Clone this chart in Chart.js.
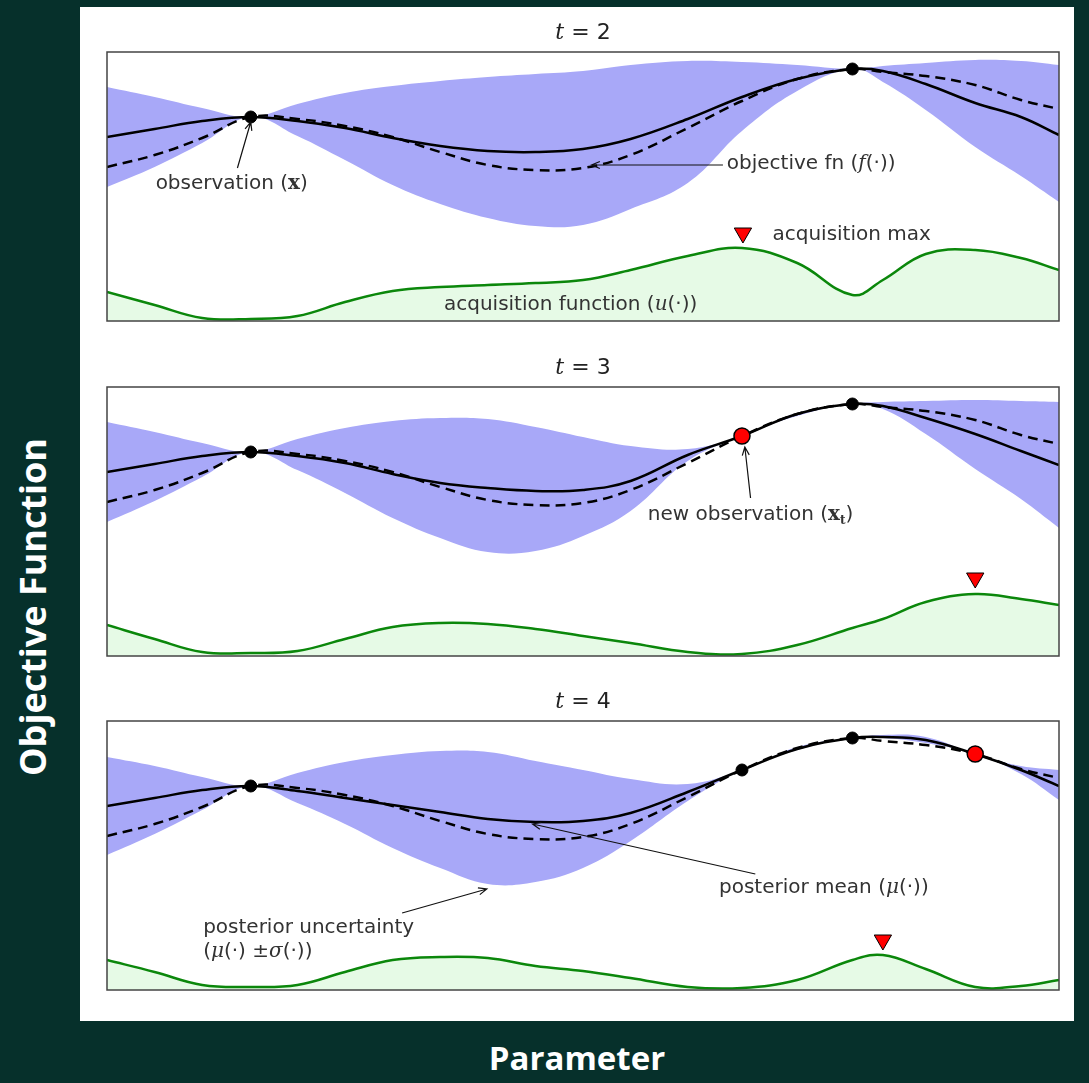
<!DOCTYPE html>
<html>
<head>
<meta charset="utf-8">
<script src="https://cdn.jsdelivr.net/npm/chart.js@4"></script>
<style>
body { margin:0; background:#06302b; width:1089px; height:1083px; overflow:hidden; position:relative; }
#sheet { position:absolute; left:80px; top:7px; width:994px; height:1014px; background:#fff; }
canvas { position:absolute; left:80px; }
#ylab { position:absolute; left:32px; top:607px; transform:translate(-50%,-50%) rotate(-90deg); color:#fff; font:bold 36px "Open Sans", sans-serif; white-space:nowrap; }
#xlab { position:absolute; left:577px; top:1057px; transform:translate(-50%,-50%); color:#fff; font:bold 33px "Open Sans", sans-serif; white-space:nowrap; }
</style>
</head>
<body>
<div id="sheet"></div>
<canvas id="c1" width="995" height="320" style="top:12px"></canvas>
<canvas id="c2" width="995" height="320" style="top:347px"></canvas>
<canvas id="c3" width="995" height="320" style="top:681px"></canvas>
<div id="ylab">Objective Function</div>
<div id="xlab">Parameter</div>
<script>
// parameter grid (0..10 across the plot)
const xs = [0, 0.5, 1, 1.51, 2, 2.5, 3, 3.5, 4, 4.5, 5, 5.5, 6.1, 6.67, 7.25, 7.83, 8.15, 8.6, 9.12, 9.6, 10]

// true objective (dashed), same in every step
const objective = [15.4, 16.6, 18.3, 20.4, 20.2, 19.5, 18.4, 16.9, 15.6, 15.1, 15.3, 16.6, 19.3, 22.0, 24.2, 25.2, 24.9, 24.5, 23.6, 22.1, 21.2]

// t = 2
const mean1  = [18.4, 19.2, 20.0, 20.4, 20.0, 19.3, 18.3, 17.5, 17.0, 16.9, 17.2, 18.2, 20.2, 22.4, 24.2, 25.2, 25.0, 23.7, 21.8, 20.4, 18.6]
const upper1 = [23.4, 22.4, 21.3, 20.4, 21.7, 22.8, 23.5, 24.0, 24.4, 24.7, 25.0, 25.6, 26.0, 25.9, 25.6, 25.2, 25.5, 25.8, 26.1, 26.0, 25.6]
const lower1 = [13.4, 15.4, 17.8, 20.4, 18.5, 16.1, 13.6, 11.7, 10.3, 9.5, 9.6, 11.2, 13.8, 19.0, 23.0, 25.2, 23.9, 21.1, 17.4, 14.5, 11.9]
const acq1   = [2.9, 1.6, 0.3, 0.2, 0.5, 1.9, 3.0, 3.4, 3.6, 3.8, 4.1, 5.1, 6.5, 7.3, 5.8, 2.6, 4.1, 6.7, 7.1, 6.3, 5.1]
const obsX1 = [1.51, 7.83], obsY1 = [20.4, 25.2]
const newX1 = [], newY1 = []
const maxX1 = [6.68], maxY1 = [8.8]

// t = 3
const mean2  = [18.4, 19.2, 20.0, 20.4, 20.0, 19.3, 18.2, 17.3, 16.8, 16.5, 16.6, 17.5, 20.1, 22.0, 24.2, 25.2, 25.0, 23.8, 22.2, 20.5, 19.1]
const upper2 = [23.4, 22.4, 21.3, 20.4, 21.7, 22.8, 23.5, 23.8, 23.7, 22.9, 21.9, 21.0, 20.7, 22.0, 24.3, 25.2, 25.4, 25.5, 25.6, 25.5, 25.4]
const lower2 = [13.4, 15.5, 17.9, 20.4, 18.6, 16.3, 13.8, 11.8, 10.4, 10.5, 12.0, 14.5, 19.5, 22.0, 24.0, 25.2, 24.7, 22.2, 18.7, 15.7, 12.8]
const acq2   = [3.1, 1.7, 0.4, 0.3, 0.5, 1.7, 2.9, 3.3, 3.2, 2.7, 2.0, 1.3, 0.4, 0.2, 1.1, 2.8, 3.7, 5.4, 6.2, 5.7, 5.1]
const obsX2 = [1.51, 7.83], obsY2 = [20.4, 25.2]
const newX2 = [6.67], newY2 = [22.0]
const maxX2 = [9.12], maxY2 = [7.8]

// t = 4
const mean3  = [18.4, 19.2, 20.0, 20.4, 19.9, 19.2, 18.5, 17.8, 17.1, 16.8, 16.9, 17.7, 19.8, 22.0, 24.1, 25.2, 25.3, 25.0, 23.6, 22.0, 20.4]
const upper3 = [23.3, 22.4, 21.3, 20.4, 21.7, 22.8, 23.5, 23.9, 23.8, 22.9, 22.0, 21.1, 20.6, 22.0, 24.3, 25.2, 25.5, 25.3, 23.6, 22.4, 22.0]
const lower3 = [13.5, 15.6, 18.0, 20.4, 18.7, 16.6, 14.2, 12.2, 10.6, 10.8, 12.2, 14.9, 18.9, 22.0, 24.0, 25.2, 25.2, 24.7, 23.6, 21.6, 19.0]
const acq3   = [3.0, 1.8, 0.5, 0.3, 0.5, 1.8, 3.0, 3.3, 3.2, 2.4, 1.9, 1.2, 0.3, 0.2, 1.0, 3.0, 3.5, 2.1, 0.3, 0.4, 1.0]
const obsX3 = [1.51, 6.67, 7.83], obsY3 = [20.4, 22.0, 25.2]
const newX3 = [9.12], newY3 = [23.6]
const maxX3 = [8.15], maxY3 = [5.0]

const TXT = '20px "DejaVu Sans"'
const MI = 'italic 20px "DejaVu Serif"'
const MB = 'bold 20px "DejaVu Serif"'

// rich text: list of [text, font, dy]
function drawRuns(ctx, runs, x, y, align){
  ctx.textBaseline = 'middle'
  ctx.textAlign = 'left'
  let w = 0
  runs.forEach(r => { ctx.font = r[1]; w += ctx.measureText(r[0]).width })
  let cx = align === 'center' ? x - w / 2 : x
  runs.forEach(r => {
    ctx.font = r[1]
    ctx.fillText(r[0], cx, y + (r[2] || 0))
    cx += ctx.measureText(r[0]).width
  })
}

function arrow(ctx, x0, y0, x1, y1){
  let a = Math.atan2(y1 - y0, x1 - x0)
  ctx.beginPath()
  ctx.moveTo(x0, y0); ctx.lineTo(x1, y1)
  ctx.moveTo(x1 - 9 * Math.cos(a - 0.4), y1 - 9 * Math.sin(a - 0.4))
  ctx.lineTo(x1, y1)
  ctx.lineTo(x1 - 9 * Math.cos(a + 0.4), y1 - 9 * Math.sin(a + 0.4))
  ctx.stroke()
}

const deco = {
  id: 'deco',
  afterDatasetsDraw(chart, args, opts){
    const ctx = chart.ctx, a = chart.chartArea
    const sx = chart.scales.x, sy = chart.scales.y
    ctx.save()
    ctx.strokeStyle = '#444'
    ctx.lineWidth = 1.5
    ctx.strokeRect(a.left, a.top, a.right - a.left, a.bottom - a.top)
    ctx.fillStyle = '#222'
    drawRuns(ctx, [['t', 'italic 22px "DejaVu Serif"'], [' = ' + opts.step, '22px "DejaVu Sans"']], (a.left + a.right) / 2, a.top - 19, 'center')
    ctx.strokeStyle = '#111'
    ctx.lineWidth = 1.2
    opts.arrows.forEach(r => arrow(ctx, sx.getPixelForValue(r[0]), sy.getPixelForValue(r[1]), sx.getPixelForValue(r[2]), sy.getPixelForValue(r[3])))
    ctx.fillStyle = '#333'
    opts.notes.forEach(n => drawRuns(ctx, n.runs, sx.getPixelForValue(n.x), sy.getPixelForValue(n.y), n.align))
    ctx.restore()
  }
}

function pts(xa, ya){ return xa.map((v, i) => ({x: v, y: ya[i]})) }

function makeChart(id, step, mean, upper, lower, acq, obsX, obsY, newX, newY, maxX, maxY, notes, arrows){
  new Chart(document.getElementById(id), {
    type: 'line',
    data: { datasets: [
      { data: pts(maxX, maxY), showLine: false, pointStyle: 'triangle', rotation: 180, pointRadius: 10, pointBackgroundColor: '#ff0000', pointBorderColor: '#000', pointBorderWidth: 1 },
      { data: pts(newX, newY), showLine: false, pointRadius: 8, pointBackgroundColor: '#ff0000', pointBorderColor: '#000', pointBorderWidth: 1.5 },
      { data: pts(obsX, obsY), showLine: false, pointRadius: 6, pointBackgroundColor: '#000', pointBorderColor: '#000', pointBorderWidth: 1 },
      { data: pts(xs, mean), borderColor: '#000', borderWidth: 2.5, pointRadius: 0 },
      { data: pts(xs, objective), borderColor: '#000', borderWidth: 2.5, borderDash: [10, 6], pointRadius: 0 },
      { data: pts(xs, acq), borderColor: '#0b870b', borderWidth: 2.5, fill: 'origin', backgroundColor: '#e6fae6', pointRadius: 0 },
      { data: pts(xs, upper), borderColor: 'rgba(0,0,0,0)', borderWidth: 1, fill: '+1', backgroundColor: 'rgb(168,168,248)', pointRadius: 0 },
      { data: pts(xs, lower), borderColor: 'rgba(0,0,0,0)', borderWidth: 1, pointRadius: 0 }
    ]},
    options: {
      responsive: false,
      animation: false,
      devicePixelRatio: 1,
      layout: { padding: { left: 27, right: 16, top: 40, bottom: 11 } },
      elements: { line: { tension: 0.4 } },
      scales: {
        x: { type: 'linear', min: 0, max: 10, display: false },
        y: { min: 0, max: 26.9, display: false }
      },
      plugins: {
        legend: { display: false },
        tooltip: { enabled: false },
        deco: { step: step, notes: notes, arrows: arrows }
      }
    },
    plugins: [deco]
  })
}

makeChart('c1', 2, mean1, upper1, lower1, acq1, obsX1, obsY1, newX1, newY1, maxX1, maxY1, [
  { runs: [['observation (', TXT], ['x', MB], [')', TXT]], x: 1.31, y: 13.7, align: 'center' },
  { runs: [['objective fn (', TXT], ['f', MI], ['(·))', TXT]], x: 6.51, y: 15.7, align: 'left' },
  { runs: [['acquisition max', TXT]], x: 6.99, y: 8.65, align: 'left' },
  { runs: [['acquisition function (', TXT], ['u', MI], ['(·))', TXT]], x: 4.87, y: 1.6, align: 'center' }
], [
  [1.37, 15.3, 1.51, 19.9],
  [6.47, 15.6, 5.09, 15.6]
])

makeChart('c2', 3, mean2, upper2, lower2, acq2, obsX2, obsY2, newX2, newY2, maxX2, maxY2, [
  { runs: [['new observation (', TXT], ['x', MB], ['t', 'bold 12px "DejaVu Serif"', 6], [')', TXT]], x: 6.76, y: 14.1, align: 'center' }
], [
  [6.76, 15.8, 6.70, 20.9]
])

makeChart('c3', 4, mean3, upper3, lower3, acq3, obsX3, obsY3, newX3, newY3, maxX3, maxY3, [
  { runs: [['posterior mean (', TXT], ['μ', MI], ['(·))', TXT]], x: 7.53, y: 10.2, align: 'center' },
  { runs: [['posterior uncertainty', TXT]], x: 1.01, y: 6.2, align: 'left' },
  { runs: [['(', TXT], ['μ', MI], ['(·) ±', TXT], ['σ', MI], ['(·))', TXT]], x: 1.01, y: 3.8, align: 'left' }
], [
  [6.81, 11.6, 4.47, 16.6],
  [3.10, 7.7, 3.99, 10.1]
])
</script>
</body>
</html>
